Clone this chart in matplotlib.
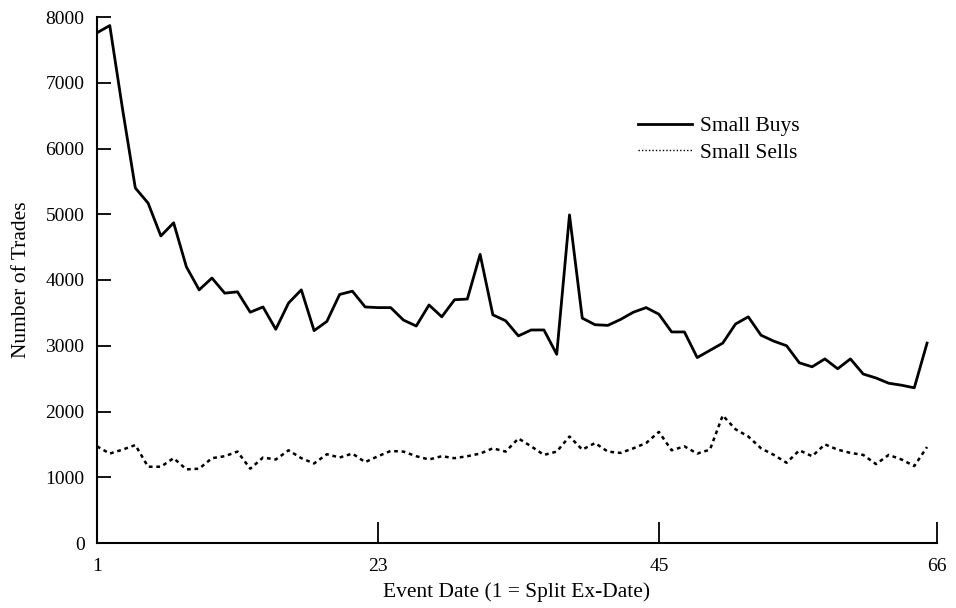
import numpy as np
import matplotlib
matplotlib.use('Agg')
import matplotlib.pyplot as plt

# small trades around the split ex-date
days = list(range(1, 67))
buys = [7760, 7870, 6600, 5400, 5170, 4670, 4870, 4200, 3850, 4030,
        3800, 3820, 3510, 3590, 3250, 3650, 3850, 3230, 3370, 3780,
        3830, 3590, 3580, 3580, 3390, 3300, 3620, 3440, 3700, 3710,
        4390, 3470, 3380, 3150, 3240, 3240, 2870, 4990, 3420, 3320,
        3310, 3400, 3510, 3580, 3480, 3210, 3210, 2820, 2930, 3040,
        3330, 3440, 3160, 3070, 3000, 2740, 2680, 2800, 2650, 2800,
        2570, 2510, 2430, 2400, 2360, 3040]
sells = [1470, 1360, 1420, 1490, 1160, 1160, 1290, 1120, 1130, 1290,
         1320, 1390, 1130, 1300, 1270, 1410, 1290, 1210, 1350, 1300,
         1360, 1230, 1320, 1400, 1390, 1320, 1270, 1320, 1290, 1320,
         1360, 1440, 1390, 1590, 1470, 1340, 1390, 1620, 1420, 1520,
         1390, 1370, 1440, 1520, 1690, 1410, 1470, 1360, 1420, 1940,
         1730, 1620, 1440, 1340, 1220, 1410, 1320, 1500, 1420, 1370,
         1340, 1200, 1340, 1270, 1170, 1460]
xtick_labels = ['1', '23', '45', '66']
yticks = [0, 1000, 2000, 3000, 4000, 5000, 6000, 7000, 8000]

plt.rcParams['font.family'] = ['Liberation Serif', 'DejaVu Serif']

fig = plt.figure(figsize=(9.56, 6.08), dpi=100)
ax = fig.add_axes([97/956, 65/608, 840/956, 526/608])

ax.plot(days, buys, color='black', lw=2.0, label='Small Buys')
ax.plot(days, sells, color='black', lw=1.8, linestyle=(0, (1.5, 1.5)),
        label='Small Sells')

xmax = 1 + 840/12.77
ax.set_xlim(1, xmax)
ax.set_ylim(0, 8000)
ax.set_xticks([1, 23, 45, xmax])
ax.set_xticklabels(xtick_labels)
ax.set_yticks(yticks)

for s in ['top', 'right']:
    ax.spines[s].set_visible(False)
for s in ['left', 'bottom']:
    ax.spines[s].set_linewidth(1.5)

ax.tick_params(axis='x', direction='in', length=15, width=1.3, labelsize=14, pad=11)
ax.tick_params(axis='y', direction='in', length=10, width=1.3, labelsize=14, pad=9)

ax.set_xlabel('Event Date (1 = Split Ex-Date)', fontsize=15.5, labelpad=5)
ax.set_ylabel('Number of Trades', fontsize=15.5, labelpad=10)

leg = ax.legend(loc='upper left', bbox_to_anchor=(638/956, 1 - 116/608),
                bbox_transform=fig.transFigure, frameon=False, fontsize=15.5,
                handlelength=2.5, handletextpad=0.4, labelspacing=0.3,
                borderpad=0, borderaxespad=0)
leg.get_lines()[1].set_linewidth(1.0)
leg.get_lines()[1].set_linestyle((0, (1, 1.5)))

fig.savefig('out.png', dpi=100)
